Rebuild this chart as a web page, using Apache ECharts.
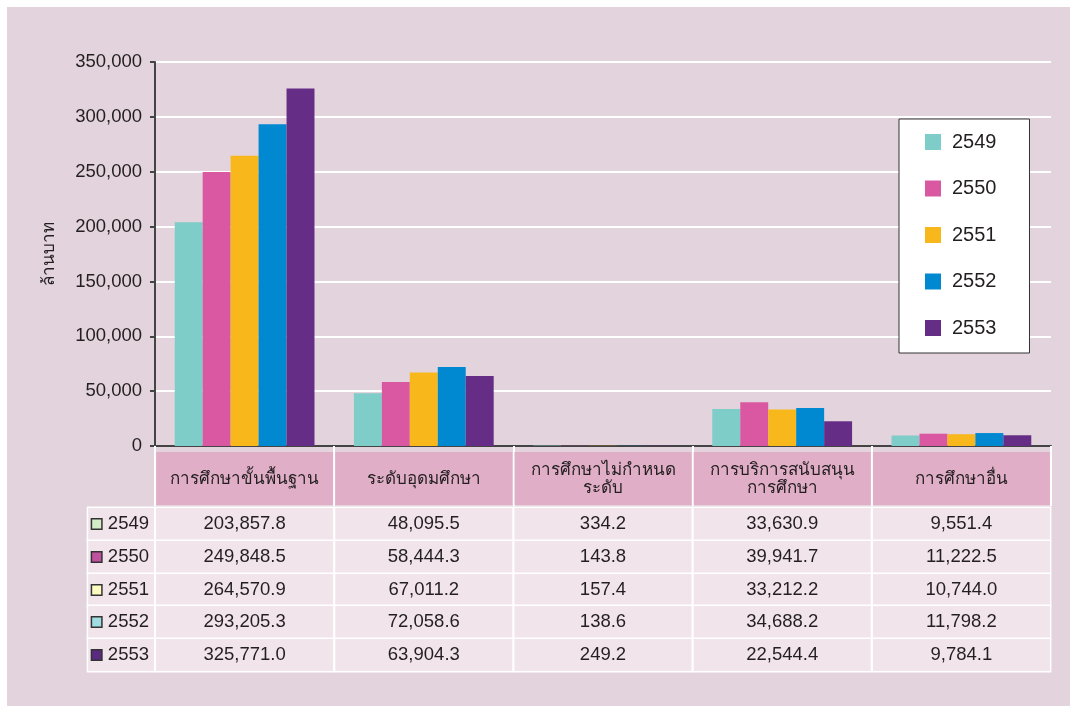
<!DOCTYPE html>
<html>
<head>
<meta charset="utf-8">
<script src="https://cdn.jsdelivr.net/npm/echarts@6/dist/echarts.min.js"></script>
<style>
  body { margin: 0; background: #fff; }
  #main {
    width: 1077px;
    height: 713px;
    background: #e3d3dc;
    box-shadow: inset 0 0 0 7px #fff;
  }
</style>
</head>
<body>
<div id="main"></div>
<script>
// data
const categories = [
  'การศึกษาขั้นพื้นฐาน',
  'ระดับอุดมศึกษา',
  'การศึกษาไม่กำหนด\nระดับ',
  'การบริการสนับสนุน\nการศึกษา',
  'การศึกษาอื่น'
]
const years = ['2549', '2550', '2551', '2552', '2553']
const v2549 = [203857.8, 48095.5, 334.2, 33630.9, 9551.4]
const v2550 = [249848.5, 58444.3, 143.8, 39941.7, 11222.5]
const v2551 = [264570.9, 67011.2, 157.4, 33212.2, 10744.0]
const v2552 = [293205.3, 72058.6, 138.6, 34688.2, 11798.2]
const v2553 = [325771.0, 63904.3, 249.2, 22544.4, 9784.1]
const rows = [v2549, v2550, v2551, v2552, v2553]
const yMax = 350000
const yStep = 50000
const yName = 'ล้านบาท'

const barColors = ['#7ecdc8', '#da58a2', '#f8b71a', '#0089d0', '#662d86']
const iconColors = ['#d4ecc8', '#c050a0', '#fdfbc0', '#a0dce0', '#5a2a80']
const font = 'Liberation Sans, Arial, sans-serif'
const ink = '#231f20'

const fmt = v => v.toLocaleString('en-US', { minimumFractionDigits: 1, maximumFractionDigits: 1 })

const chart = echarts.init(document.getElementById('main'))

const rowAxes = years.map((y, i) => ({
  type: 'category',
  gridIndex: 0,
  position: 'bottom',
  offset: 78 + Math.round(32.8 * i),
  data: rows[i].map(fmt),
  axisLine: { show: false },
  axisTick: { show: false },
  axisLabel: {
    interval: 0,
    margin: 0,
    verticalAlign: 'middle',
    width: 177,
    height: 32,
    lineHeight: 32,
    backgroundColor: '#f1e4ea',
    borderColor: '#fff',
    borderWidth: 1.5,
    color: ink,
    fontFamily: font,
    fontSize: 18.5
  },
  name: '{sq|}  {t|' + y + '}',
  nameLocation: 'start',
  nameGap: 1,
  nameMoveOverlap: false,
  nameTextStyle: {
    padding: [0, 5, 0, 4],
    backgroundColor: '#f1e4ea',
    borderColor: '#fff',
    borderWidth: 1.5,
    rich: {
      sq: {
        width: 9,
        height: 9,
        backgroundColor: iconColors[i],
        borderColor: '#333',
        borderWidth: 1.5
      },
      t: { fontSize: 18.5, lineHeight: 32, color: ink, fontFamily: font }
    }
  }
}))

const option = {
  animation: false,
  textStyle: { fontFamily: font },
  grid: { left: 155, right: 26, top: 62, bottom: 267 },
  legend: {
    orient: 'vertical',
    left: 899,
    top: 119,
    data: years,
    icon: 'rect',
    itemWidth: 16,
    itemHeight: 16,
    itemGap: 26.5,
    padding: [13, 33, 15, 26],
    backgroundColor: '#fff',
    borderColor: '#333',
    borderWidth: 1,
    textStyle: { fontSize: 20, color: ink, fontFamily: font, padding: [0, 0, 0, 6] }
  },
  xAxis: [
    {
      type: 'category',
      data: categories,
      axisLine: { lineStyle: { color: '#444', width: 2 } },
      axisTick: { show: true, length: 60, lineStyle: { color: '#fff', width: 2 } },
      axisLabel: {
        interval: 0,
        margin: 6,
        width: 177,
        height: 44,
        padding: [9, 0, 0, 0],
        backgroundColor: '#e0aec6',
        formatter: v => (v.indexOf('\n') >= 0 ? '{two|' + v + '}' : '{one|' + v + '}'),
        rich: {
          one: { lineHeight: 36, fontSize: 17, color: ink, fontFamily: font },
          two: { lineHeight: 18, fontSize: 17, color: ink, fontFamily: font }
        }
      }
    }
  ].concat(rowAxes),
  yAxis: {
    type: 'value',
    min: 0,
    max: yMax,
    interval: yStep,
    name: yName,
    nameLocation: 'middle',
    nameGap: 97,
    nameTextStyle: { fontSize: 17, color: ink, fontFamily: font },
    axisLine: { show: true, lineStyle: { color: '#444', width: 2 } },
    axisTick: { show: true, length: 5, lineStyle: { color: '#444', width: 2 } },
    axisLabel: {
      margin: 13,
      fontSize: 18.5,
      color: ink,
      fontFamily: font,
      formatter: v => v.toLocaleString('en-US')
    },
    splitLine: { lineStyle: { color: '#fff', width: 2 } }
  },
  series: years.map((y, i) => ({
    name: y,
    type: 'bar',
    xAxisIndex: 0,
    data: rows[i],
    barGap: '0%',
    barCategoryGap: '22%',
    itemStyle: { color: barColors[i] }
  }))
}

chart.setOption(option)
</script>
</body>
</html>
